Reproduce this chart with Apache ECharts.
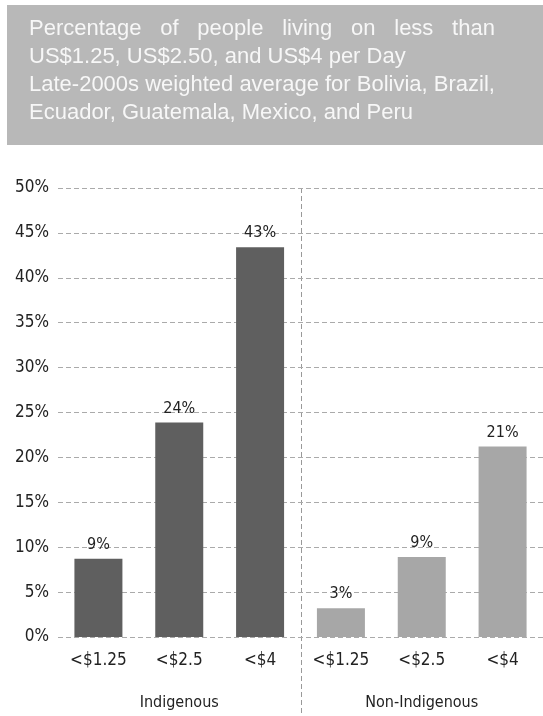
<!DOCTYPE html>
<html>
<head>
<meta charset="utf-8">
<script src="https://cdn.jsdelivr.net/npm/echarts@6/dist/echarts.min.js"></script>
<style>
  html, body { margin: 0; padding: 0; background: #fff; }
  #chart { width: 543px; height: 716px; }
</style>
</head>
<body>
<div id="chart"></div>
<script>
// 数据
const categories = ['<$1.25', '<$2.5', '<$4', '<$1.25', '<$2.5', '<$4']
const groups = ['Indigenous', 'Non-Indigenous']
const indigenous = [8.7, 23.9, 43.4]
const nonIndigenous = [3.2, 8.9, 21.2]
const titleLines = [
  'Percentage of people living on less than',
  'US$1.25, US$2.50, and US$4 per Day',
  'Late-2000s weighted average for Bolivia, Brazil,',
  'Ecuador, Guatemala, Mexico, and Peru'
]

const axisFont = '"DejaVu Sans Condensed", sans-serif'
const titleFont = '"Liberation Sans", Arial, sans-serif'
const titleSize = 22

// 测量文字宽度（用于首行两端对齐）
const ctx = document.createElement('canvas').getContext('2d')
ctx.font = titleSize + 'px ' + titleFont
function textWidth(s) { return ctx.measureText(s).width }

const titleX = 29
const titleY0 = 29
const titleStep = 28
const justifyWidth = textWidth(titleLines[2])

function titleGraphics() {
  const items = [{
    type: 'rect',
    shape: { x: 7, y: 5, width: 536, height: 140 },
    style: { fill: '#b8b8b8' },
    silent: true
  }]
  // 第一行两端对齐
  const words = titleLines[0].split(' ')
  const total = words.reduce((s, w) => s + textWidth(w), 0)
  const gap = (justifyWidth - total) / (words.length - 1)
  let x = titleX
  words.forEach(w => {
    items.push({
      type: 'text', x: x, y: titleY0,
      style: { text: w, fill: '#f7f7f7', font: titleSize + 'px ' + titleFont, verticalAlign: 'middle' },
      silent: true
    })
    x += textWidth(w) + gap
  })
  titleLines.slice(1).forEach((line, i) => {
    items.push({
      type: 'text', x: titleX, y: titleY0 + titleStep * (i + 1),
      style: { text: line, fill: '#f7f7f7', font: titleSize + 'px ' + titleFont, verticalAlign: 'middle' },
      silent: true
    })
  })
  return items
}

const chart = echarts.init(document.getElementById('chart'))

const labelStyle = {
  show: true,
  position: 'top',
  distance: 6,
  color: '#222',
  fontFamily: axisFont,
  fontSize: 16,
  formatter: p => Math.round(p.value) + '%'
}

const option = {
  animation: false,
  backgroundColor: '#fff',
  grid: { left: 58, right: 0, top: 188, bottom: 79 },
  xAxis: [
    {
      type: 'category',
      data: categories,
      axisLine: { show: false },
      axisTick: { show: false },
      axisLabel: { interval: 0, color: '#222', fontFamily: axisFont, fontSize: 17, margin: 15 }
    },
    {
      type: 'category',
      data: groups,
      position: 'bottom',
      axisLine: { show: false },
      axisTick: { show: false },
      axisLabel: { interval: 0, color: '#222', fontFamily: axisFont, fontSize: 16, margin: 58 }
    }
  ],
  yAxis: {
    type: 'value',
    min: 0,
    max: 50,
    interval: 5,
    axisLine: { show: false },
    axisTick: { show: false },
    axisLabel: { color: '#222', fontFamily: axisFont, fontSize: 17, margin: 9, formatter: '{value}%' },
    splitLine: { lineStyle: { color: '#aaa', type: [5, 3], width: 1 } }
  },
  series: [
    {
      name: 'Indigenous',
      type: 'bar',
      barWidth: 48,
      barGap: '-100%',
      data: indigenous.concat([null, null, null]),
      itemStyle: { color: '#5f5f5f' },
      label: labelStyle
    },
    {
      name: 'Non-Indigenous',
      type: 'bar',
      barWidth: 48,
      data: [null, null, null].concat(nonIndigenous),
      itemStyle: { color: '#a7a7a7' },
      label: labelStyle
    }
  ],
  graphic: titleGraphics()
}

chart.setOption(option)

// 分组之间的竖向虚线
const xa = chart.convertToPixel({ xAxisIndex: 0 }, 2)
const xb = chart.convertToPixel({ xAxisIndex: 0 }, 3)
const divX = Math.round((xa + xb) / 2) + 0.5
const topY = chart.convertToPixel({ yAxisIndex: 0 }, 50)
chart.setOption({
  graphic: titleGraphics().concat([{
    type: 'line',
    shape: { x1: divX, y1: topY, x2: divX, y2: 716 },
    style: { stroke: '#999', lineWidth: 1, lineDash: [5, 3] },
    silent: true
  }])
})
</script>
</body>
</html>
